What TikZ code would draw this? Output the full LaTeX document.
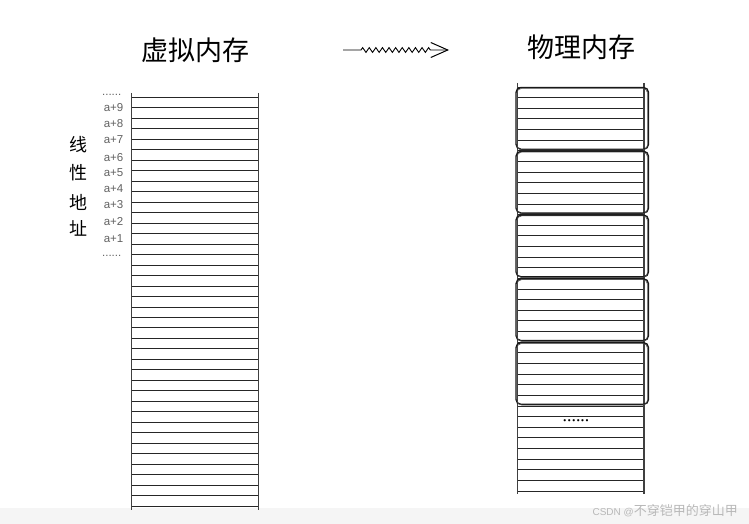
\documentclass[tikz,border=0pt]{standalone}
\usepackage{fontspec}
\setmainfont{Liberation Sans}
\newfontfamily\cjk{Noto Sans CJK SC}
\newfontfamily\symb{DejaVu Sans}
\usetikzlibrary{arrows.meta,decorations.pathmorphing}

\begin{document}
\begin{tikzpicture}[x=1pt,y=-1pt,
title/.style={font=\cjk\fontsize{27}{27}\selectfont,inner sep=0pt},
sidetext/.style={font=\cjk\fontsize{18}{18}\selectfont,inner sep=0pt},
addr/.style={font=\fontsize{11.5}{11.5}\selectfont,text=black!62,anchor=east,inner sep=0pt},
rowline/.style={line width=0.8pt,black!85},
wall/.style={line width=1.2pt,black!75},
pagebox/.style={line width=1.4pt,rounded corners=5pt,black!90},
arrow/.style={-{Straight Barb[length=17pt,width=15pt,line width=1pt]},line width=0.9pt} ]

\useasboundingbox (0,0) rectangle (749,524);
\fill[black!4] (0,508) rectangle (749,524);

% virtual memory column
\node[title] (virt) at (195,50) {虚拟内存};
\foreach \k in {0,...,39}
  \draw[rowline] (131.5,{97.3+10.48*\k}) -- (258.3,{97.3+10.48*\k});
\draw[wall] (131.5,93) -- (131.5,510);
\draw[wall] (258.3,93) -- (258.3,510);

\foreach \n/\y in {9/107.7,8/123.3,7/139.7,6/157.3,5/172.7,4/188.3,3/205,2/221.7,1/238.3}
  \node[addr] (a\n) at (123.5,\y) {a+\n};
\node[addr] (dotstop) at (121.5,95) {......};
\node[addr] (dotsbot) at (121.5,256) {......};

\foreach \c/\y [count=\i] in {线/145,性/173,地/202,址/228}
  \node[sidetext] (side\i) at (78.5,\y) {\c};

% mapping arrow
\coordinate (arrowstart) at (343,50);
\coordinate (arrowend) at (449,50);
\draw[arrow,decorate,decoration={zigzag,amplitude=2.4pt,segment length=6.6pt,pre length=18pt,post length=18pt}] (arrowstart) -- (arrowend);

% physical memory column
\node[title] (phys) at (581,47) {物理内存};
\foreach \k in {0,...,38}
  \draw[rowline] (517.5,{87+10.63*\k}) -- (644,{87+10.63*\k});
\draw[wall] (517.5,83) -- (517.5,494);
\draw[wall] (644,83) -- (644,494);

\foreach \i in {0,...,4} {
  \draw[pagebox] (516,{87+63.78*\i+0.5}) rectangle (648.5,{87+63.78*(\i+1)-1.5});
  \draw[line width=0.5pt,rounded corners=5pt,black!70] (516.8,{87+63.78*\i+1.3}) rectangle (647.6,{87+63.78*(\i+1)-0.8});
}
\node[font=\symb\fontsize{7.5}{7.5}\selectfont,inner sep=0pt] (more) at (576,421.5) {••••••};

\node[anchor=east,inner sep=0pt,text=black!28] (mark) at (738,511)
  {\fontsize{10}{10}\selectfont CSDN @\cjk\fontsize{13}{13}\selectfont 不穿铠甲的穿山甲};

\end{tikzpicture}
\end{document}
